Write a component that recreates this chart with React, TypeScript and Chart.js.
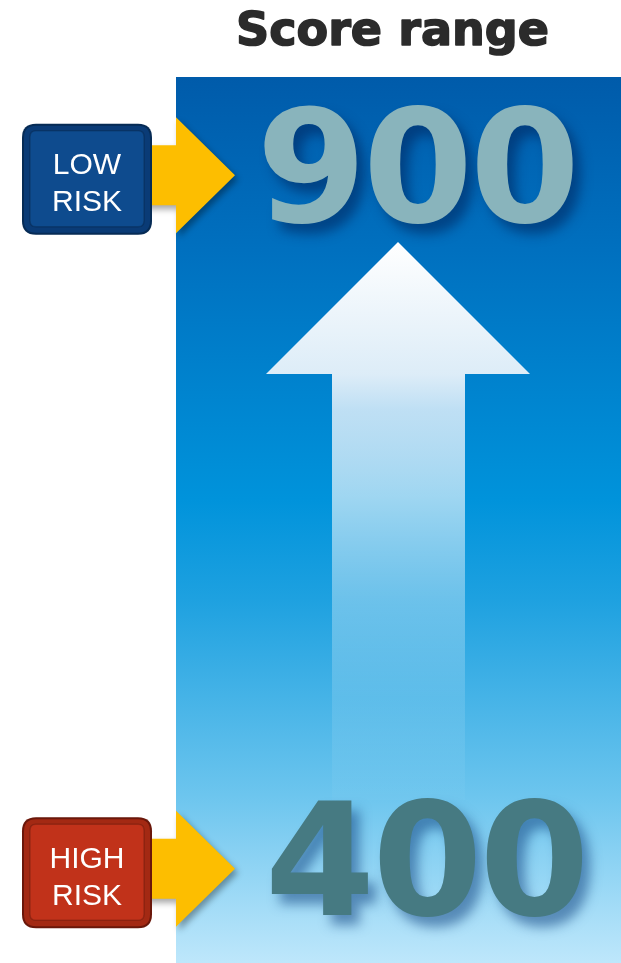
import React, { useEffect, useRef } from "react";
import { Chart, registerables } from "chart.js";

Chart.register(...registerables);

// ---- data ----
const scores: number[] = [900, 400];
const riskLabels: string[][] = [["LOW", "RISK"], ["HIGH", "RISK"]];
const riskColors: string[] = ["#0E4B8E", "#C1321A"];
const riskEdgeColors: string[] = ["#062B55", "#6A170A"];
const riskRimColors: string[] = ["#0A3B76", "#A32913"];
const scoreColors: string[] = ["#89B4BC", "#467A82"];
const scoreShadows: string[] = ["rgba(0,35,90,0.55)", "rgba(20,70,130,0.55)"];
const titleText = "Score range";
const yMin = 350;
const yMax = 950;

const W = 621;
const H = 963;
const BOX_FONT = "30px 'Liberation Sans', Arial, sans-serif";
const NUM_FONT = "bold 162px 'DejaVu Sans', sans-serif";
const TITLE_FONT = "bold 48px 'DejaVu Sans', sans-serif";

function roundRect(ctx: CanvasRenderingContext2D, x: number, y: number, w: number, h: number, r: number) {
  ctx.beginPath();
  ctx.moveTo(x + r, y);
  ctx.lineTo(x + w - r, y);
  ctx.quadraticCurveTo(x + w, y, x + w, y + r);
  ctx.lineTo(x + w, y + h - r);
  ctx.quadraticCurveTo(x + w, y + h, x + w - r, y + h);
  ctx.lineTo(x + r, y + h);
  ctx.quadraticCurveTo(x, y + h, x, y + h - r);
  ctx.lineTo(x, y + r);
  ctx.quadraticCurveTo(x, y, x + r, y);
  ctx.closePath();
}

const infographicPlugin = {
  id: "infographic",
  beforeDraw(chart: any) {
    const ctx: CanvasRenderingContext2D = chart.ctx;
    ctx.save();
    ctx.fillStyle = "#ffffff";
    ctx.fillRect(0, 0, W, H);

    // panel
    const px = 176, py = 77, pw = W - 176, ph = H - 77;
    const g = ctx.createLinearGradient(0, py, 0, py + ph);
    g.addColorStop(0, "#005BAA");
    g.addColorStop(0.195, "#0070BF");
    g.addColorStop(0.477, "#0093DB");
    g.addColorStop(0.59, "#1EA1E0");
    g.addColorStop(0.70, "#45B3E7");
    g.addColorStop(0.81, "#6CC5EE");
    g.addColorStop(1, "#BEE7FB");
    ctx.fillStyle = g;
    ctx.fillRect(px, py, pw, ph);

    // title
    ctx.fillStyle = "#2B2B2B";
    ctx.strokeStyle = "#2B2B2B";
    ctx.lineWidth = 1.6;
    ctx.lineJoin = "round";
    ctx.font = TITLE_FONT;
    ctx.textBaseline = "alphabetic";
    ctx.textAlign = "center";
    const tm = ctx.measureText(titleText);
    const sx = 313 / tm.width;
    const capH = ctx.measureText("S").actualBoundingBoxAscent;
    const sy = 35 / capH;
    ctx.save();
    ctx.translate(392.5, 45);
    ctx.scale(sx, sy);
    ctx.fillText(titleText, 0, 0);
    ctx.strokeText(titleText, 0, 0);
    ctx.restore();

    // big upward arrow
    const tipY = 242, baseY = 374, endY = 800;
    const ag = ctx.createLinearGradient(0, tipY, 0, endY);
    ag.addColorStop(0, "rgba(255,255,255,1)");
    ag.addColorStop(0.237, "rgba(228,240,249,0.97)");
    ag.addColorStop(0.3, "rgba(222,238,250,0.86)");
    ag.addColorStop(0.46, "rgba(255,255,255,0.62)");
    ag.addColorStop(0.64, "rgba(255,255,255,0.35)");
    ag.addColorStop(0.82, "rgba(255,255,255,0.13)");
    ag.addColorStop(1, "rgba(255,255,255,0.02)");
    ctx.fillStyle = ag;
    ctx.beginPath();
    ctx.moveTo(398, tipY);
    ctx.lineTo(530, baseY);
    ctx.lineTo(465, baseY);
    ctx.lineTo(465, endY);
    ctx.lineTo(332, endY);
    ctx.lineTo(332, baseY);
    ctx.lineTo(266, baseY);
    ctx.closePath();
    ctx.fill();
    ctx.restore();
  },
  afterDraw(chart: any) {
    const ctx: CanvasRenderingContext2D = chart.ctx;
    const yScale = chart.scales.y;
    scores.forEach((v, i) => {
      const cy = yScale.getPixelForValue(v);
      // score number, digit by digit
      ctx.save();
      ctx.font = NUM_FONT;
      ctx.textAlign = "left";
      ctx.textBaseline = "alphabetic";
      const txt = String(v);
      const m0 = ctx.measureText("0");
      const ink0 = m0.actualBoundingBoxLeft + m0.actualBoundingBoxRight;
      const inkH0 = m0.actualBoundingBoxAscent + m0.actualBoundingBoxDescent;
      const digitW = 96;
      const digitH = 119;
      const gap = 11;
      const s = digitW / ink0;
      const sv = digitH / inkH0;
      const total = txt.length * digitW + (txt.length - 1) * gap;
      const cx = i === 0 ? 417.5 : 427;
      const start = cx - total / 2;
      const baseline = cy - digitH / 2 + m0.actualBoundingBoxAscent * sv;
      ctx.shadowColor = scoreShadows[i];
      ctx.shadowBlur = 12;
      ctx.shadowOffsetX = 8;
      ctx.shadowOffsetY = 10;
      ctx.fillStyle = scoreColors[i];
      for (let k = 0; k < txt.length; k++) {
        const ch = txt[k];
        const m = ctx.measureText(ch);
        const inkW = (m.actualBoundingBoxLeft + m.actualBoundingBoxRight) * s;
        const slotLeft = start + k * (digitW + gap) + (digitW - inkW) / 2;
        const ox = slotLeft + m.actualBoundingBoxLeft * s;
        ctx.save();
        ctx.translate(ox, baseline);
        ctx.scale(s, sv);
        ctx.fillText(ch, 0, 0);
        ctx.restore();
      }
      ctx.restore();

      // yellow arrow
      const ay = cy + 11;
      ctx.save();
      ctx.shadowColor = "rgba(0,0,0,0.35)";
      ctx.shadowBlur = 6;
      ctx.shadowOffsetX = 3;
      ctx.shadowOffsetY = 4;
      ctx.fillStyle = "#FDBE00";
      ctx.beginPath();
      ctx.moveTo(130, ay - 30);
      ctx.lineTo(176, ay - 30);
      ctx.lineTo(176, ay - 58);
      ctx.lineTo(235, ay);
      ctx.lineTo(176, ay + 58);
      ctx.lineTo(176, ay + 30);
      ctx.lineTo(130, ay + 30);
      ctx.closePath();
      ctx.fill();
      ctx.restore();

      // risk box
      const bx = 22, bw = 130, bh = 111;
      const by = cy + 15 - bh / 2;
      ctx.save();
      roundRect(ctx, bx, by, bw, bh, 14);
      ctx.fillStyle = riskEdgeColors[i];
      ctx.fill();
      roundRect(ctx, bx + 2, by + 2, bw - 4, bh - 4, 12);
      ctx.fillStyle = riskRimColors[i];
      ctx.fill();
      roundRect(ctx, bx + 8, by + 7, bw - 16, bh - 15, 6);
      ctx.fillStyle = riskColors[i];
      ctx.fill();
      ctx.strokeStyle = "rgba(0,0,0,0.18)";
      ctx.lineWidth = 1.5;
      ctx.stroke();
      ctx.fillStyle = "#ffffff";
      ctx.font = BOX_FONT;
      ctx.textAlign = "center";
      ctx.textBaseline = "alphabetic";
      const tx = bx + bw / 2;
      ctx.fillText(riskLabels[i][0], tx, by + bh / 2 - 5);
      ctx.fillText(riskLabels[i][1], tx, by + bh / 2 + 32);
      ctx.restore();
    });
  },
};

export default function App() {
  const ref = useRef<HTMLCanvasElement | null>(null);
  useEffect(() => {
    document.body.style.margin = "0";
    let chart: Chart | null = null;
    let cancelled = false;
    const make = () => {
      if (cancelled || !ref.current) return;
      chart = new Chart(ref.current, {
        type: "scatter",
        data: {
          datasets: [
            {
              data: scores.map((v) => ({ x: 0.5, y: v })),
              pointRadius: 0,
              pointHoverRadius: 0,
            },
          ],
        },
        options: {
          responsive: false,
          animation: false,
          events: [],
          layout: { padding: { top: 95, bottom: 36, left: 0, right: 0 } },
          scales: {
            x: { display: false, min: 0, max: 1 },
            y: { display: false, min: yMin, max: yMax },
          },
          plugins: { legend: { display: false }, tooltip: { enabled: false } },
        },
        plugins: [infographicPlugin],
      });
    };
    const fonts: any = (document as any).fonts;
    if (fonts && fonts.load) {
      Promise.all([fonts.load(BOX_FONT), fonts.load(NUM_FONT), fonts.load(TITLE_FONT)])
        .catch(() => null)
        .then(make);
    } else {
      make();
    }
    return () => {
      cancelled = true;
      if (chart) chart.destroy();
    };
  }, []);
  return (
    <div style={{ width: W, height: H }}>
      <canvas ref={ref} width={W} height={H} style={{ display: "block" }} />
    </div>
  );
}
